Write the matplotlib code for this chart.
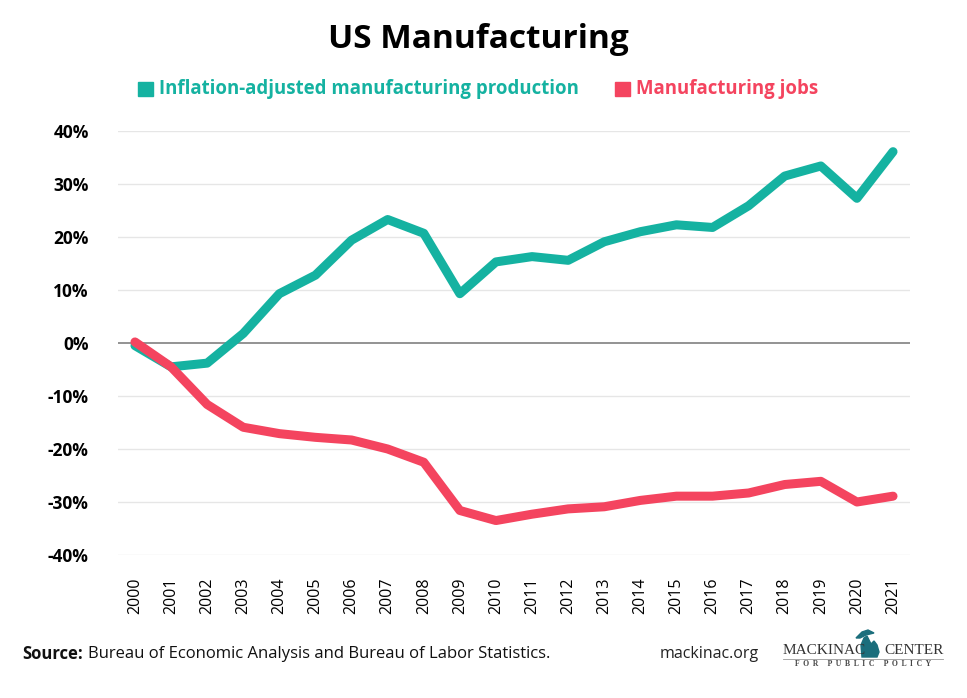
import numpy as np
import matplotlib.pyplot as plt
from matplotlib.patches import Polygon

plt.rcParams['font.family'] = ['Open Sans', 'DejaVu Sans']

years = list(range(2000, 2022))
production = [-0.5, -4.5, -3.8, 1.8, 9.3, 12.8, 19.4, 23.3, 20.7, 9.3, 15.3,
              16.3, 15.6, 19.1, 21.0, 22.3, 21.8, 25.9, 31.5, 33.4, 27.3, 36.1]
jobs = [0.2, -4.5, -11.6, -15.9, -17.1, -17.8, -18.3, -20.0, -22.5, -31.6, -33.5,
        -32.3, -31.3, -30.9, -29.7, -28.9, -28.9, -28.3, -26.7, -26.1, -30.0, -28.9]
yticks = [40, 30, 20, 10, 0, -10, -20, -30, -40]

teal = '#15b2a1'
red = '#f4445f'

fig = plt.figure(figsize=(9.67, 6.98), dpi=100)
ax = fig.add_axes([118 / 967, 1 - 555 / 698, 792 / 967, 424 / 698])

for t in yticks:
    if t == 0:
        ax.axhline(t, color='#8a8a8a', lw=1.3, zorder=1)
    else:
        ax.axhline(t, color='#e6e6e6', lw=1.0, zorder=0)

ax.plot(years, production, color=teal, lw=6.5, solid_capstyle='round',
        solid_joinstyle='round', zorder=3)
ax.plot(years, jobs, color=red, lw=6.5, solid_capstyle='round',
        solid_joinstyle='round', zorder=4)

ax.set_xlim(1999.53, 2021.47)
ax.set_ylim(-40, 40)
ax.set_yticks(yticks)
ax.set_yticklabels(['{}%'.format(t) for t in yticks], fontsize=12.5,
                   fontweight='bold')
ax.set_xticks(years)
ax.set_xticklabels([str(y) for y in years], rotation=90, fontsize=11.5)
ax.tick_params(axis='y', length=0, pad=21)
ax.tick_params(axis='x', length=0, pad=16)
for s in ax.spines.values():
    s.set_visible(False)

# title and legend
fig.text(478 / 967, 1 - 40 / 698, 'US Manufacturing', ha='center', va='center',
         fontsize=24, fontweight='bold', color='black')
fig.patches.append(plt.Rectangle((138 / 967, 1 - 96 / 698), 15 / 967, 14 / 698,
                                 transform=fig.transFigure, color=teal))
fig.text(159 / 967, 1 - 89 / 698, 'Inflation-adjusted manufacturing production',
         ha='left', va='center', fontsize=13.4, fontweight='bold', color=teal)
fig.patches.append(plt.Rectangle((615 / 967, 1 - 96 / 698), 15 / 967, 14 / 698,
                                 transform=fig.transFigure, color=red))
fig.text(636 / 967, 1 - 89 / 698, 'Manufacturing jobs',
         ha='left', va='center', fontsize=13.4, fontweight='bold', color=red)

# footer
src = fig.text(22 / 967, 1 - 654 / 698, 'Source:', ha='left', va='center',
               fontsize=12, fontweight='bold', color='#111111')
fig.canvas.draw()
bb = src.get_window_extent()
fig.text(bb.x1 / 967 + 5 / 967, 1 - 654 / 698,
         'Bureau of Economic Analysis and Bureau of Labor Statistics.',
         ha='left', va='center', fontsize=12, color='#111111')
fig.text(660 / 967, 1 - 654 / 698, 'mackinac.org', ha='left', va='center',
         fontsize=11.5, color='#222222')

fig.text(783 / 967, 1 - 651 / 698, 'MACKINAC', ha='left', va='center',
         fontsize=11, family='Liberation Serif', color='#333333')
fig.text(944 / 967, 1 - 651 / 698, 'CENTER', ha='right', va='center',
         fontsize=11, family='Liberation Serif', color='#333333')
fig.text(863 / 967, 1 - 664 / 698, 'F  O  R     P  U  B  L  I  C     P  O  L  I  C  Y',
         ha='center', va='center', fontsize=5.5, family='Liberation Serif',
         fontweight='bold', color='#444444')
fig.add_artist(plt.Line2D([783 / 967, 943 / 967], [1 - 659 / 698, 1 - 659 / 698],
                          transform=fig.transFigure, color='#999999', lw=0.6))
mitten = [(862, 657), (861, 645), (864, 638), (867, 636), (869, 640), (871, 644),
          (874, 641), (877, 645), (879, 652), (877, 657)]
fig.patches.append(Polygon([(x / 967, 1 - y / 698) for x, y in mitten], closed=True,
                           transform=fig.transFigure, color='#1b6e7c'))
upper = [(856, 638), (862, 632), (868, 630), (874, 633), (866, 635), (860, 638)]
fig.patches.append(Polygon([(x / 967, 1 - y / 698) for x, y in upper], closed=True,
                           transform=fig.transFigure, color='#1b6e7c'))

fig.savefig('out.png', dpi=100, facecolor='white')
